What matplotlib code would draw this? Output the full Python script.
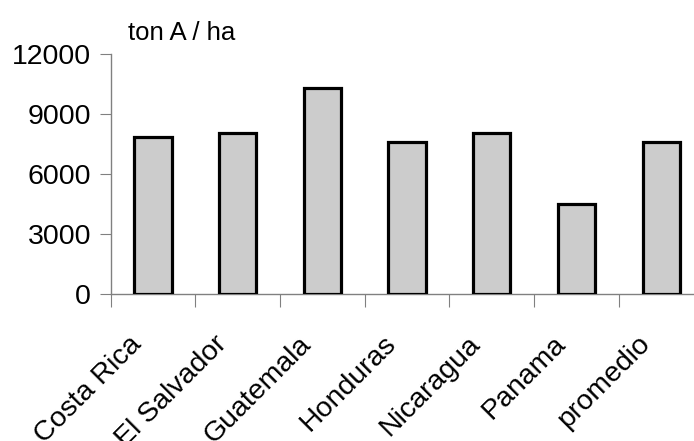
import numpy as np
import matplotlib
matplotlib.use("Agg")
from matplotlib import pyplot as plt
from matplotlib.transforms import ScaledTranslation

plt.rcParams['font.family'] = ['Liberation Sans', 'DejaVu Sans']

paises = ["Costa Rica", "El Salvador", "Guatemala", "Honduras",
          "Nicaragua", "Panama", "promedio"]
rendimiento = [7870, 8070, 10320, 7600, 8070, 4490, 7600]
yticks = [0, 3000, 6000, 9000, 12000]

W, H = 694, 441
fig = plt.figure(figsize=(W / 100, H / 100), dpi=100)
ax = fig.add_axes([110.6 / W, 1 - 294.3 / H, (703.5 - 110.6) / W, (294.3 - 54) / H])

x = np.arange(len(paises))
ax.bar(x, rendimiento, width=0.44, color="#cccccc", edgecolor="black",
       linewidth=2.3, zorder=3)

ax.set_xlim(-0.5, len(paises) - 0.5)
ax.set_ylim(0, 12000)
ax.set_yticks(yticks)
ax.set_yticklabels([str(v) for v in yticks], fontsize=20.5)

# ticks between the categories, labels at the centres
ax.set_xticks(np.arange(len(paises) + 1) - 0.5)
ax.set_xticklabels([])
ax.set_xticks(x, minor=True)
ax.set_xticklabels(paises, minor=True, fontsize=20.5, rotation=45,
                   ha="right", va="center", rotation_mode="anchor")
ax.tick_params(axis="x", which="minor", length=0, pad=33)
ax.tick_params(axis="x", which="major", length=9, color="#808080", direction="out")
ax.tick_params(axis="y", length=8, color="#808080", direction="out", pad=6)

shift = ScaledTranslation(-15 / 100, 0, fig.dpi_scale_trans)
for lab in ax.get_xticklabels(minor=True):
    lab.set_transform(lab.get_transform() + shift)

for s in ["top", "right"]:
    ax.spines[s].set_visible(False)
for s in ["left", "bottom"]:
    ax.spines[s].set_color("#808080")
    ax.spines[s].set_linewidth(1.0)

fig.text(128 / W, 1 - 33 / H, "ton A / ha", fontsize=18.5, va="center", ha="left")

fig.savefig("out.png", dpi=100)
